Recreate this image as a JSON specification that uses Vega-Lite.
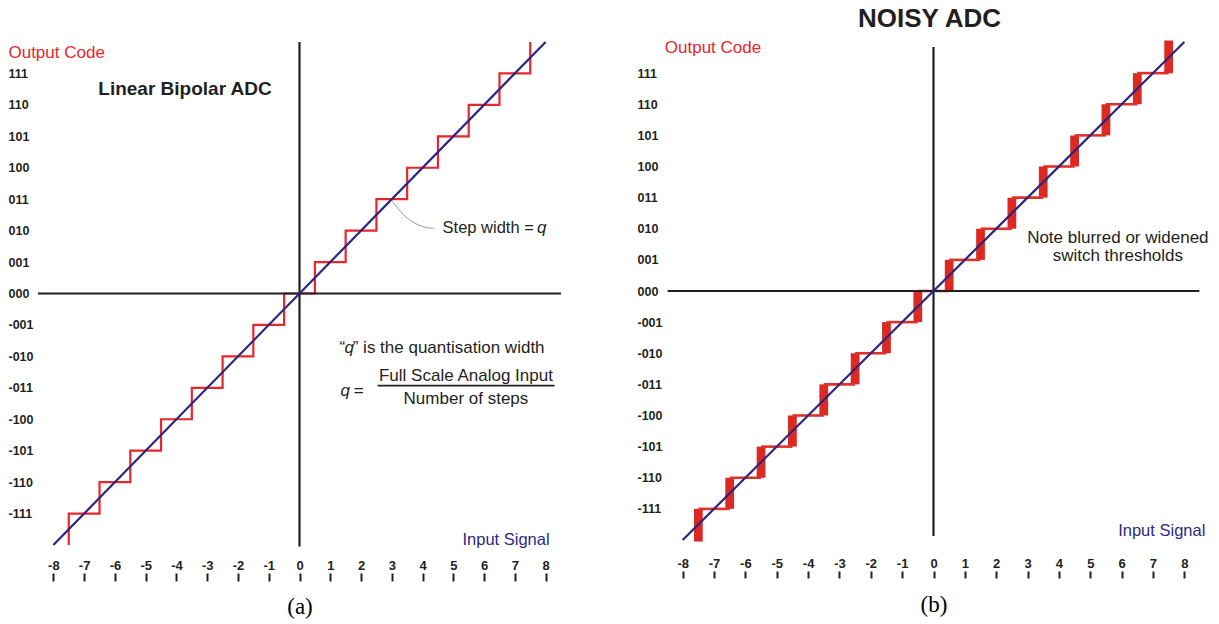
{
  "$schema": "https://vega.github.io/schema/vega-lite/v6.json",
  "background": "white",
  "padding": {"left": 8, "top": 5, "right": 5, "bottom": 2},
  "title": {"text": "NOISY ADC", "anchor": "start", "frame": "bounds", "dx": 850, "fontSize": 26, "fontWeight": "bold", "font": "Liberation Sans", "color": "#231f20", "offset": 6},
  "config": {"view": {"stroke": null}, "font": "Liberation Sans", "axis": {"labelOverlap": false, "labelFlush": false, "labelBound": false, "grid": false, "domain": false, "tickCount": 40}},
  "spacing": 74,
  "hconcat": [
    {
      "width": 523,
      "height": 503,
      "layer": [
        {
          "data": {"values": [
            {"i": 1, "x": -7.5, "y": -8}, {"i": 2, "x": -7.5, "y": -7}, {"i": 3, "x": -6.5, "y": -7}, {"i": 4, "x": -6.5, "y": -6},
            {"i": 5, "x": -5.5, "y": -6}, {"i": 6, "x": -5.5, "y": -5}, {"i": 7, "x": -4.5, "y": -5}, {"i": 8, "x": -4.5, "y": -4},
            {"i": 9, "x": -3.5, "y": -4}, {"i": 10, "x": -3.5, "y": -3}, {"i": 11, "x": -2.5, "y": -3}, {"i": 12, "x": -2.5, "y": -2},
            {"i": 13, "x": -1.5, "y": -2}, {"i": 14, "x": -1.5, "y": -1}, {"i": 15, "x": -0.5, "y": -1}, {"i": 16, "x": -0.5, "y": 0},
            {"i": 17, "x": 0.5, "y": 0}, {"i": 18, "x": 0.5, "y": 1}, {"i": 19, "x": 1.5, "y": 1}, {"i": 20, "x": 1.5, "y": 2},
            {"i": 21, "x": 2.5, "y": 2}, {"i": 22, "x": 2.5, "y": 3}, {"i": 23, "x": 3.5, "y": 3}, {"i": 24, "x": 3.5, "y": 4},
            {"i": 25, "x": 4.5, "y": 4}, {"i": 26, "x": 4.5, "y": 5}, {"i": 27, "x": 5.5, "y": 5}, {"i": 28, "x": 5.5, "y": 6},
            {"i": 29, "x": 6.5, "y": 6}, {"i": 30, "x": 6.5, "y": 7}, {"i": 31, "x": 7.5, "y": 7}, {"i": 32, "x": 7.5, "y": 8}
          ]},
          "mark": {"type": "line", "color": "#e8262b", "strokeWidth": 2.2, "strokeJoin": "miter"},
          "encoding": {
            "x": {"field": "x", "type": "quantitative", "scale": {"domain": [-8.5, 8.5], "nice": false, "zero": false},
              "axis": {"values": [-8,-7,-6,-5,-4,-3,-2,-1,0,1,2,3,4,5,6,7,8], "tickCount": 40, "labelExpr": "'' + datum.value", "domain": false, "grid": false, "ticks": true, "tickSize": 8, "tickWidth": 2, "tickColor": "#231f20", "offset": 28, "labelPadding": -22, "labelFont": "Liberation Sans Narrow, Liberation Sans", "labelFontSize": 13, "labelFontWeight": "bold", "labelColor": "#231f20", "labelFlush": false, "labelOverlap": false, "labelBound": false, "title": "(a)", "titleFont": "Liberation Serif", "titleFontSize": 23, "titleFontWeight": "normal", "titleColor": "#000000", "titlePadding": 13}},
            "y": {"field": "y", "type": "quantitative", "scale": {"domain": [-8, 8], "nice": false, "zero": false},
              "axis": {"values": [-7,-6,-5,-4,-3,-2,-1,0,1,2,3,4,5,6,7], "tickCount": 40, "labelExpr": "['-111','-110','-101','-100','-011','-010','-001','000','001','010','011','100','101','110','111'][datum.value + 7]", "domain": false, "grid": false, "ticks": false, "tickSize": 0, "labelAlign": "left", "labelBaseline": "middle", "labelPadding": 30, "labelFontSize": 12.5, "labelFontWeight": "bold", "labelColor": "#231f20", "labelFlush": false, "labelOverlap": false, "labelBound": false, "title": null}},
            "order": {"field": "i", "type": "quantitative"}
          }
        },
        {
          "data": {"values": [{"x1": -8.5, "x2": 8.5, "y": 0}]},
          "mark": {"type": "rule", "color": "#231f20", "strokeWidth": 2.2},
          "encoding": {"x": {"field": "x1", "type": "quantitative"}, "x2": {"field": "x2"}, "y": {"field": "y", "type": "quantitative"}}
        },
        {
          "data": {"values": [{"x": 0, "y1": -8.05, "y2": 8.0}]},
          "mark": {"type": "rule", "color": "#231f20", "strokeWidth": 2.2},
          "encoding": {"x": {"field": "x", "type": "quantitative"}, "y": {"field": "y1", "type": "quantitative"}, "y2": {"field": "y2"}}
        },
        {
          "data": {"values": [{"x": -8, "y": -8}, {"x": 8, "y": 8}]},
          "mark": {"type": "line", "color": "#2b2580", "strokeWidth": 2.2},
          "encoding": {"x": {"field": "x", "type": "quantitative"}, "y": {"field": "y", "type": "quantitative"}}
        },
        {
          "data": {"values": [{"x": 3.02, "y": 2.93}, {"x": 3.38, "y": 2.51}, {"x": 3.84, "y": 2.19}, {"x": 4.36, "y": 2.07}]},
          "mark": {"type": "line", "color": "#9a9a9a", "strokeWidth": 1, "interpolate": "monotone"},
          "encoding": {"x": {"field": "x", "type": "quantitative"}, "y": {"field": "y", "type": "quantitative"}}
        },
        {
          "data": {"values": [{"x1": 2.54, "x2": 8.29, "y": -2.93}]},
          "mark": {"type": "rule", "color": "#231f20", "strokeWidth": 1.6},
          "encoding": {"x": {"field": "x1", "type": "quantitative"}, "x2": {"field": "x2"}, "y": {"field": "y", "type": "quantitative"}}
        },
        {
          "data": {"values": [{"x": -9.46, "y": 7.64, "t": "Output Code"}]},
          "mark": {"type": "text", "align": "left", "baseline": "middle", "fontSize": 17, "color": "#e8262b"},
          "encoding": {"x": {"field": "x", "type": "quantitative"}, "y": {"field": "y", "type": "quantitative"}, "text": {"field": "t"}}
        },
        {
          "data": {"values": [{"x": -6.54, "y": 6.52, "t": "Linear Bipolar ADC"}]},
          "mark": {"type": "text", "align": "left", "baseline": "middle", "fontSize": 19, "fontWeight": "bold", "color": "#231f20"},
          "encoding": {"x": {"field": "x", "type": "quantitative"}, "y": {"field": "y", "type": "quantitative"}, "text": {"field": "t"}}
        },
        {
          "data": {"values": [{"x": 8.13, "y": -7.83, "t": "Input Signal"}]},
          "mark": {"type": "text", "align": "right", "baseline": "middle", "fontSize": 16.5, "color": "#2b2a84"},
          "encoding": {"x": {"field": "x", "type": "quantitative"}, "y": {"field": "y", "type": "quantitative"}, "text": {"field": "t"}}
        },
        {
          "data": {"values": [{"x": 4.65, "y": 2.07, "t": "Step width ="}]},
          "mark": {"type": "text", "align": "left", "baseline": "middle", "fontSize": 16.5, "color": "#231f20"},
          "encoding": {"x": {"field": "x", "type": "quantitative"}, "y": {"field": "y", "type": "quantitative"}, "text": {"field": "t"}}
        },
        {
          "data": {"values": [{"x": 1.30, "y": -1.72, "t": "“"}, {"x": 1.73, "y": -1.72, "t": "” is the quantisation width"}, {"x": 1.76, "y": -3.09, "t": "="}]},
          "mark": {"type": "text", "align": "left", "baseline": "middle", "fontSize": 17, "color": "#231f20"},
          "encoding": {"x": {"field": "x", "type": "quantitative"}, "y": {"field": "y", "type": "quantitative"}, "text": {"field": "t"}}
        },
        {
          "data": {"values": [{"x": 7.72, "y": 2.07, "t": "q"}, {"x": 1.46, "y": -1.72, "t": "q"}, {"x": 1.33, "y": -3.09, "t": "q"}]},
          "mark": {"type": "text", "align": "left", "baseline": "middle", "fontSize": 17, "fontStyle": "italic", "color": "#231f20"},
          "encoding": {"x": {"field": "x", "type": "quantitative"}, "y": {"field": "y", "type": "quantitative"}, "text": {"field": "t"}}
        },
        {
          "data": {"values": [{"x": 5.41, "y": -2.62, "t": "Full Scale Analog Input"}, {"x": 5.41, "y": -3.36, "t": "Number of steps"}]},
          "mark": {"type": "text", "align": "center", "baseline": "middle", "fontSize": 17, "color": "#231f20"},
          "encoding": {"x": {"field": "x", "type": "quantitative"}, "y": {"field": "y", "type": "quantitative"}, "text": {"field": "t"}}
        }
      ]
    },
    {
      "width": 533,
      "height": 498,
      "layer": [
        {
          "data": {"values": [
            {"x1": -7.64, "x2": -7.36, "y1": -8.05, "y2": -7}, {"x1": -6.64, "x2": -6.36, "y1": -7, "y2": -6},
            {"x1": -5.64, "x2": -5.36, "y1": -6, "y2": -5}, {"x1": -4.64, "x2": -4.36, "y1": -5, "y2": -4},
            {"x1": -3.64, "x2": -3.36, "y1": -4, "y2": -3}, {"x1": -2.64, "x2": -2.36, "y1": -3, "y2": -2},
            {"x1": -1.64, "x2": -1.36, "y1": -2, "y2": -1}, {"x1": -0.64, "x2": -0.36, "y1": -1, "y2": 0},
            {"x1": 0.36, "x2": 0.64, "y1": 0, "y2": 1}, {"x1": 1.36, "x2": 1.64, "y1": 1, "y2": 2},
            {"x1": 2.36, "x2": 2.64, "y1": 2, "y2": 3}, {"x1": 3.36, "x2": 3.64, "y1": 3, "y2": 4},
            {"x1": 4.36, "x2": 4.64, "y1": 4, "y2": 5}, {"x1": 5.36, "x2": 5.64, "y1": 5, "y2": 6},
            {"x1": 6.36, "x2": 6.64, "y1": 6, "y2": 7}, {"x1": 7.36, "x2": 7.64, "y1": 7, "y2": 8.05}
          ]},
          "mark": {"type": "rect", "color": "#dc2a22"},
          "encoding": {
            "x": {"field": "x1", "type": "quantitative", "scale": {"domain": [-8.5, 8.5], "nice": false, "zero": false},
              "axis": {"values": [-8,-7,-6,-5,-4,-3,-2,-1,0,1,2,3,4,5,6,7,8], "tickCount": 40, "labelExpr": "'' + datum.value", "domain": false, "grid": false, "ticks": true, "tickSize": 7, "tickWidth": 2, "tickColor": "#231f20", "offset": 31, "labelPadding": -21, "labelFont": "Liberation Sans Narrow, Liberation Sans", "labelFontSize": 13, "labelFontWeight": "bold", "labelColor": "#231f20", "labelFlush": false, "labelOverlap": false, "labelBound": false, "title": "(b)", "titleFont": "Liberation Serif", "titleFontSize": 23, "titleFontWeight": "normal", "titleColor": "#000000", "titlePadding": 14}},
            "x2": {"field": "x2"},
            "y": {"field": "y1", "type": "quantitative", "scale": {"domain": [-8, 8], "nice": false, "zero": false},
              "axis": {"values": [-7,-6,-5,-4,-3,-2,-1,0,1,2,3,4,5,6,7], "tickCount": 40, "labelExpr": "['-111','-110','-101','-100','-011','-010','-001','000','001','010','011','100','101','110','111'][datum.value + 7]", "domain": false, "grid": false, "ticks": false, "tickSize": 0, "labelAlign": "left", "labelBaseline": "middle", "labelPadding": 30, "labelFontSize": 12.5, "labelFontWeight": "bold", "labelColor": "#231f20", "labelFlush": false, "labelOverlap": false, "labelBound": false, "title": null}},
            "y2": {"field": "y2"}
          }
        },
        {
          "data": {"values": [
            {"x1": -7.5, "x2": -6.5, "y": -7}, {"x1": -6.5, "x2": -5.5, "y": -6}, {"x1": -5.5, "x2": -4.5, "y": -5},
            {"x1": -4.5, "x2": -3.5, "y": -4}, {"x1": -3.5, "x2": -2.5, "y": -3}, {"x1": -2.5, "x2": -1.5, "y": -2},
            {"x1": -1.5, "x2": -0.5, "y": -1}, {"x1": -0.5, "x2": 0.5, "y": 0}, {"x1": 0.5, "x2": 1.5, "y": 1},
            {"x1": 1.5, "x2": 2.5, "y": 2}, {"x1": 2.5, "x2": 3.5, "y": 3}, {"x1": 3.5, "x2": 4.5, "y": 4},
            {"x1": 4.5, "x2": 5.5, "y": 5}, {"x1": 5.5, "x2": 6.5, "y": 6}, {"x1": 6.5, "x2": 7.5, "y": 7}
          ]},
          "mark": {"type": "rule", "color": "#e0302a", "strokeWidth": 2.6},
          "encoding": {"x": {"field": "x1", "type": "quantitative"}, "x2": {"field": "x2"}, "y": {"field": "y", "type": "quantitative"}}
        },
        {
          "data": {"values": [{"x1": -8.48, "x2": 8.48, "y": 0}]},
          "mark": {"type": "rule", "color": "#231f20", "strokeWidth": 2.2},
          "encoding": {"x": {"field": "x1", "type": "quantitative"}, "x2": {"field": "x2"}, "y": {"field": "y", "type": "quantitative"}}
        },
        {
          "data": {"values": [{"x": 0, "y1": -7.87, "y2": 7.84}]},
          "mark": {"type": "rule", "color": "#231f20", "strokeWidth": 2.2},
          "encoding": {"x": {"field": "x", "type": "quantitative"}, "y": {"field": "y1", "type": "quantitative"}, "y2": {"field": "y2"}}
        },
        {
          "data": {"values": [{"x": -8, "y": -8}, {"x": 8, "y": 8}]},
          "mark": {"type": "line", "color": "#2b2580", "strokeWidth": 2.2},
          "encoding": {"x": {"field": "x", "type": "quantitative"}, "y": {"field": "y", "type": "quantitative"}}
        },
        {
          "data": {"values": [{"x": -8.57, "y": 7.8, "t": "Output Code"}]},
          "mark": {"type": "text", "align": "left", "baseline": "middle", "fontSize": 17, "color": "#e8262b"},
          "encoding": {"x": {"field": "x", "type": "quantitative"}, "y": {"field": "y", "type": "quantitative"}, "text": {"field": "t"}}
        },
        {
          "data": {"values": [{"x": 8.67, "y": -7.71, "t": "Input Signal"}]},
          "mark": {"type": "text", "align": "right", "baseline": "middle", "fontSize": 16.5, "color": "#2b2a84"},
          "encoding": {"x": {"field": "x", "type": "quantitative"}, "y": {"field": "y", "type": "quantitative"}, "text": {"field": "t"}}
        },
        {
          "data": {"values": [{"x": 5.88, "y": 1.70, "t": "Note blurred or widened"}, {"x": 5.88, "y": 1.12, "t": "switch thresholds"}]},
          "mark": {"type": "text", "align": "center", "baseline": "middle", "fontSize": 17, "color": "#231f20"},
          "encoding": {"x": {"field": "x", "type": "quantitative"}, "y": {"field": "y", "type": "quantitative"}, "text": {"field": "t"}}
        }
      ]
    }
  ]
}
